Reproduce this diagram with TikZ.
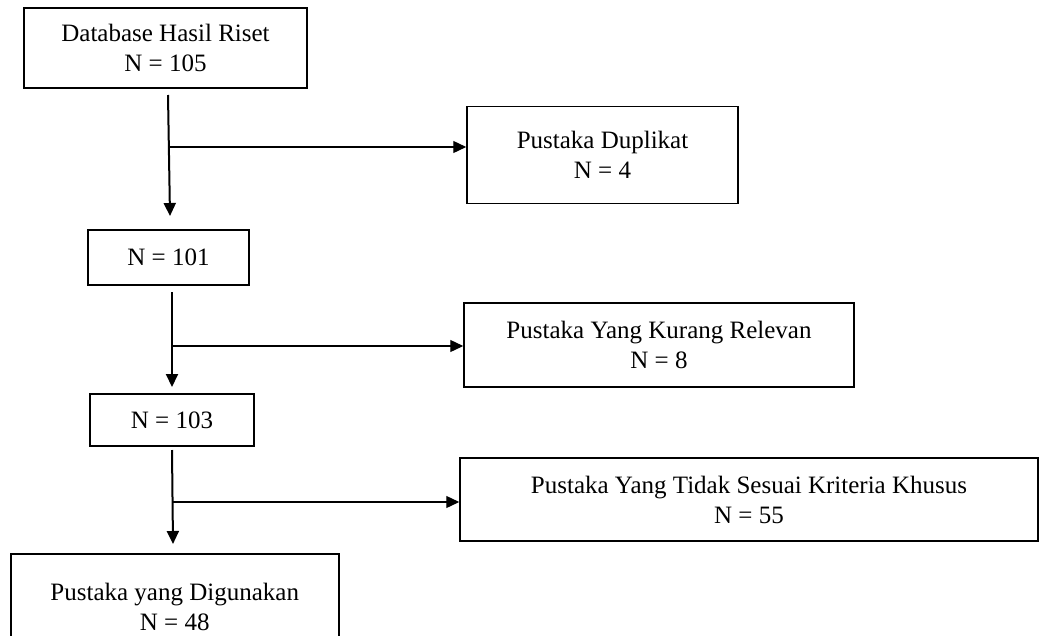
\documentclass[tikz,border=0pt]{standalone}
\usepackage{fontspec}
\setmainfont{Liberation Serif}
\usetikzlibrary{arrows.meta}
\begin{document}
\begin{tikzpicture}[x=1pt,y=-1pt,
  box/.style={draw,line width=1.5pt,rectangle,inner sep=0pt,align=center,
    font=\fontsize{25}{30}\selectfont},
  vline/.style={line width=2pt,-{Triangle[length=13pt,width=12pt]}},
  hline/.style={line width=1.3pt,-{Triangle[length=13pt,width=12pt]}}]
\useasboundingbox (0,0) rectangle (1039,635);
% main column
\node[box,minimum width=283pt,minimum height=80pt] (b1) at (165.5,48) {Database Hasil Riset\\N = 105};
\node[box,minimum width=161pt,minimum height=55pt] (b3) at (168.5,257.5) {N = 101};
\node[box,minimum width=164pt,minimum height=52pt] (b5) at (172,420) {N = 103};
\node[box,minimum width=328pt,minimum height=107pt,anchor=north west] (b7) at (10,553) {Pustaka yang Digunakan\\N = 48};
% side boxes
\node[box,minimum width=271pt,minimum height=97pt] (b2) at (602.5,155) {Pustaka Duplikat\\N = 4};
\node[box,minimum width=390pt,minimum height=84pt] (b4) at (659,345) {Pustaka Yang Kurang Relevan\\N = 8};
\node[box,minimum width=578pt,minimum height=83pt] (b6) at (749,499.5) {Pustaka Yang Tidak Sesuai Kriteria Khusus\\N = 55};
% connector points
\coordinate (s1) at (168,95);
\coordinate (e1) at (170,216);
\coordinate (j1) at (169.5,147);
\coordinate (s2) at (172,292);
\coordinate (e2) at (172,387);
\coordinate (j2) at (172,346);
\coordinate (s3) at (172,450);
\coordinate (e3) at (173,544);
\coordinate (j3) at (172.5,502);
% connectors
\draw[vline] (s1) -- (e1);
\draw[hline] (j1) -- (j1 -| b2.west);
\draw[vline] (s2) -- (e2);
\draw[hline] (j2) -- (j2 -| b4.west);
\draw[vline] (s3) -- (e3);
\draw[hline] (j3) -- (j3 -| b6.west);
\end{tikzpicture}
\end{document}
